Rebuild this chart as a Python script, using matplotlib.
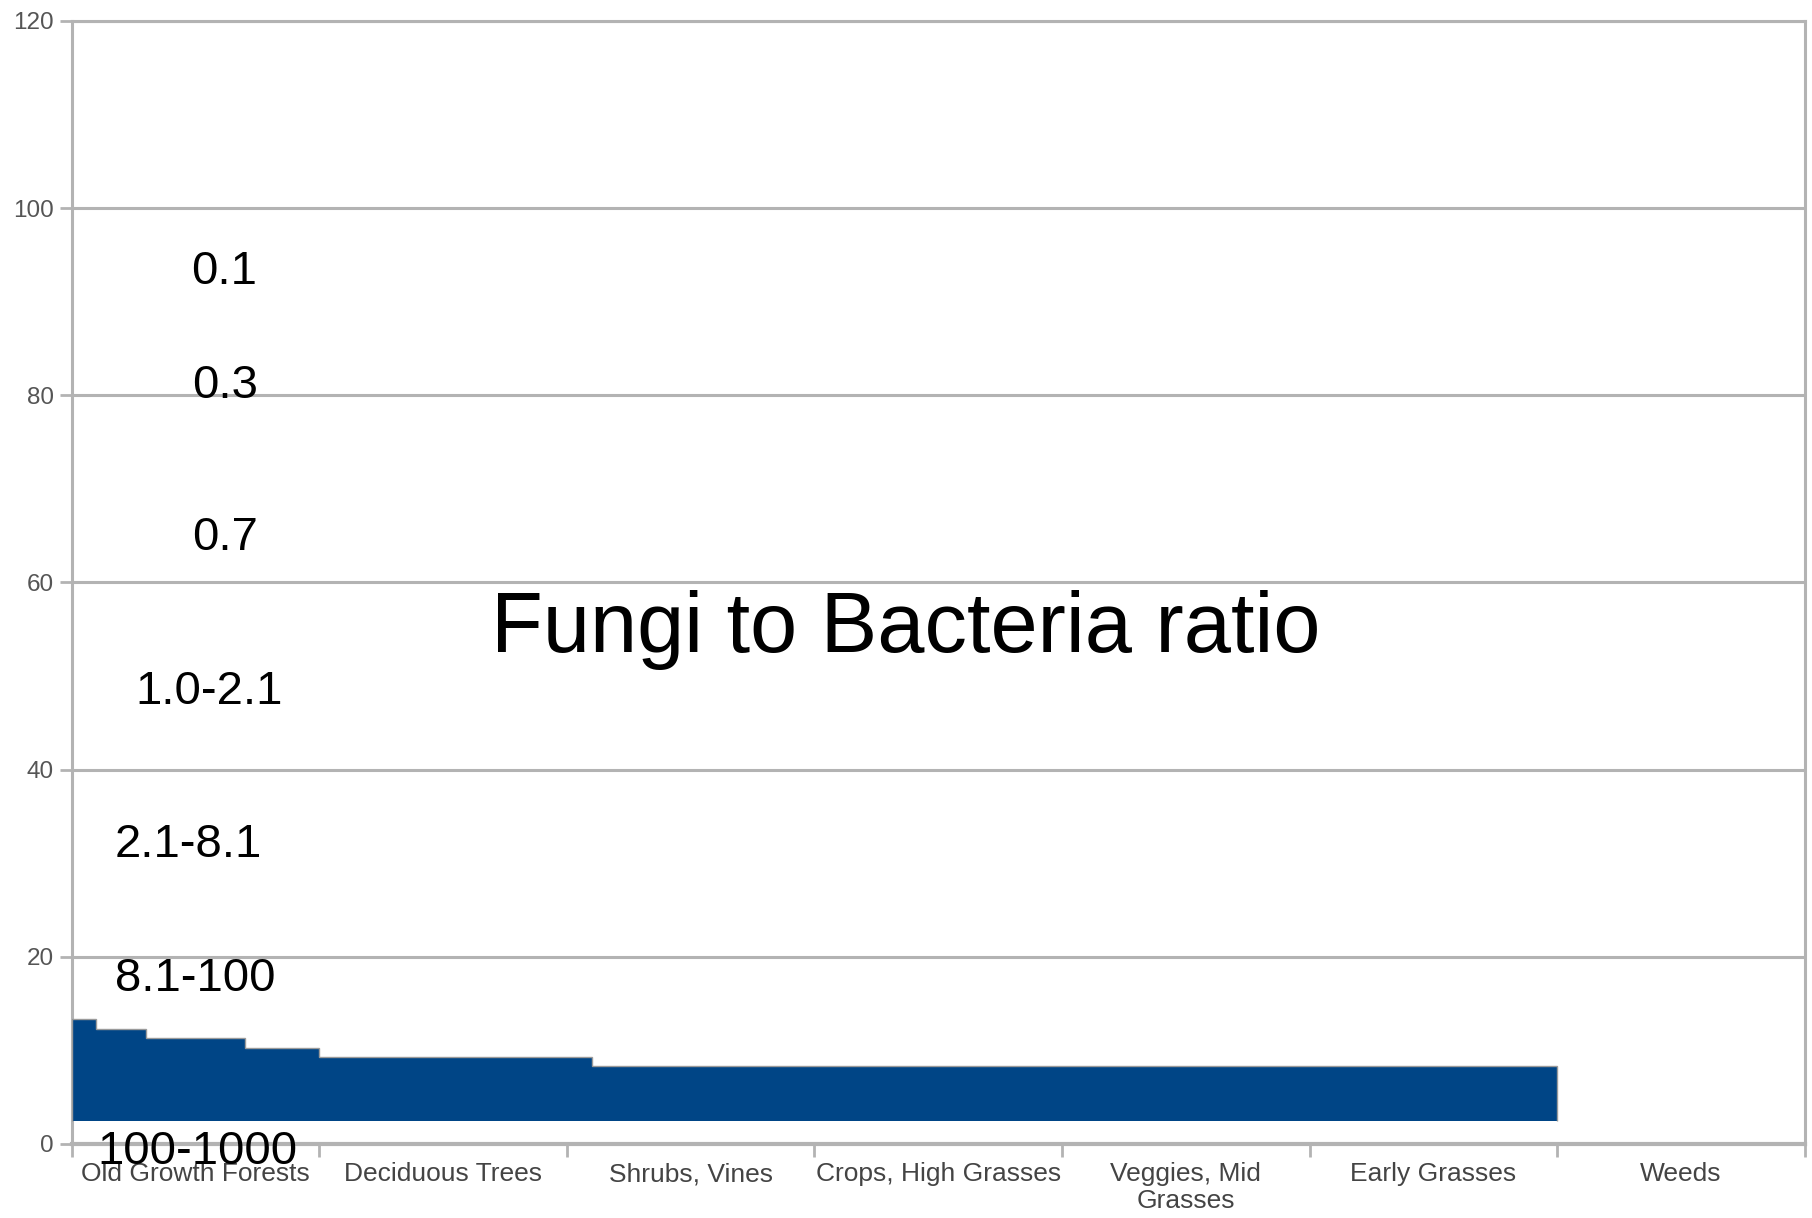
import numpy as np
import matplotlib.pyplot as plt

plt.rcParams['font.family'] = ['Liberation Sans', 'DejaVu Sans']

# categories along the x axis
categories = ["Old Growth Forests", "Deciduous Trees", "Shrubs, Vines",
              "Crops, High Grasses", "Veggies, Mid\nGrasses", "Early Grasses", "Weeds"]

# stepped area (edges in category units)
step_edges = [0, 0.1, 0.3, 0.7, 1.0, 2.1, 6.0]
step_values = [13.3, 12.3, 11.3, 10.3, 9.3, 8.3]
step_base = 2.4

# ratio labels written on the chart
ratio_labels = ["0.1", "0.3", "0.7", "1.0-2.1", "2.1-8.1", "8.1-100", "100-1000"]
label_x = [0.615, 0.62, 0.62, 0.555, 0.47, 0.50, 0.51]
label_y = [93.2, 81.0, 64.7, 48.3, 31.9, 17.6, -0.9]

yticks = [0, 20, 40, 60, 80, 100, 120]

grid_col = "#b3b3b3"

fig = plt.figure(figsize=(18.12, 12.18), dpi=100)
ax = fig.add_axes([0.0395, 0.0608, 0.9565, 0.922])

ax.stairs(step_values, step_edges, baseline=step_base, fill=True,
          color="#004586", zorder=3)
ax.stairs(step_values, step_edges, baseline=step_base, fill=False,
          color="#9a9a9a", linewidth=1, zorder=3)

ax.set_xlim(0, len(categories))
ax.set_ylim(0, 120)

# gridlines and ticks
ax.set_yticks(yticks)
ax.yaxis.grid(True, color=grid_col, linewidth=2.2, zorder=1)
ax.set_axisbelow(True)
ax.tick_params(axis='y', length=9, width=2, color=grid_col, pad=4,
               labelsize=17.5, labelcolor="#555555")

ax.set_xticks(np.arange(len(categories) + 1))
ax.set_xticklabels([])
ax.set_xticks(np.arange(len(categories)) + 0.5, minor=True)
ax.set_xticklabels(categories, minor=True, fontsize=19, color="#444444")
for lbl in ax.get_xticklabels(minor=True):
    if "\n" in lbl.get_text():
        lbl.set_linespacing(1.15)
ax.tick_params(axis='x', which='major', length=9, width=2, color=grid_col,
               direction='out')
ax.tick_params(axis='x', which='minor', length=0, pad=13)

for side in ['left', 'right', 'top', 'bottom']:
    ax.spines[side].set_color(grid_col)
    ax.spines[side].set_linewidth(2.2)
ax.spines['bottom'].set_linewidth(3)

for txt, x, y in zip(ratio_labels, label_x, label_y):
    ax.text(x, y, txt, fontsize=34, ha='center', va='center', color='black',
            zorder=5, clip_on=False)

ax.text(3.37, 54.9, "Fungi to Bacteria ratio",
        fontsize=61, ha='center', va='center', color='black', zorder=5)

fig.savefig("out.png", dpi=100)
